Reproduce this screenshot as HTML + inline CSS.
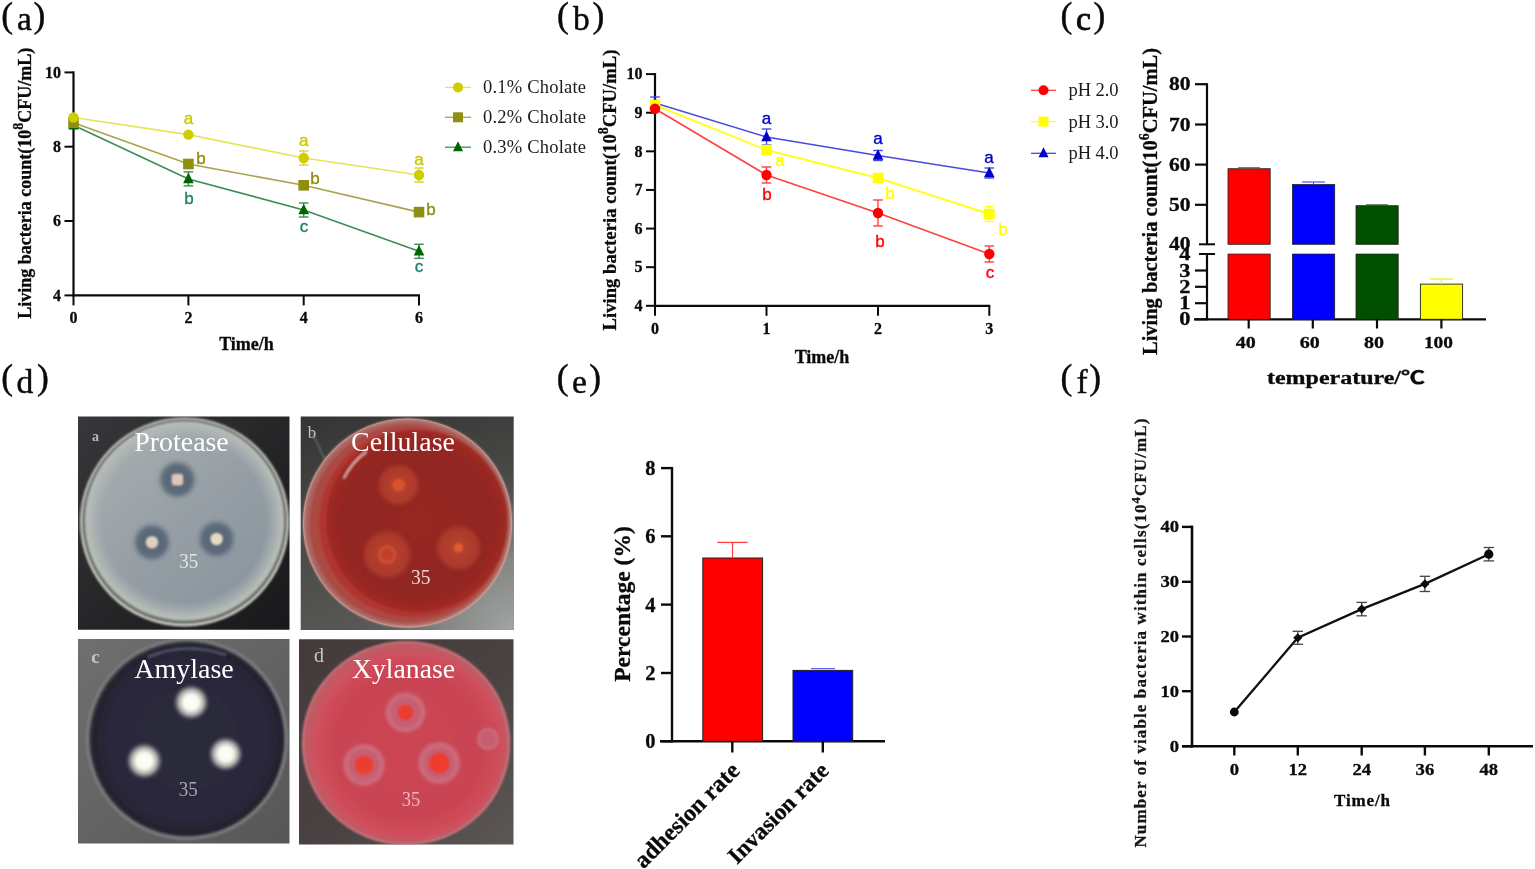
<!DOCTYPE html>
<html lang="en"><head><meta charset="utf-8"><title>Figure</title>
<style>
html,body{margin:0;padding:0;background:#fff;}
body{width:1535px;height:869px;overflow:hidden;font-family:'Liberation Serif',serif;}
svg{display:block;}
</style></head><body>
<svg width="1535" height="869" viewBox="0 0 1535 869">
<rect width="1535" height="869" fill="#ffffff"/>
<defs>
  <filter id="bl1" x="-10%" y="-10%" width="120%" height="120%"><feGaussianBlur stdDeviation="1.1"/></filter>
  <filter id="bl2" x="-30%" y="-30%" width="160%" height="160%"><feGaussianBlur stdDeviation="2.6"/></filter>
  <filter id="bl3" x="-30%" y="-30%" width="160%" height="160%"><feGaussianBlur stdDeviation="1.6"/></filter>
  <filter id="bl05" x="-10%" y="-10%" width="120%" height="120%"><feGaussianBlur stdDeviation="0.6"/></filter>
  <clipPath id="cpa"><rect x="78" y="416.5" width="211.5" height="213.3"/></clipPath>
  <clipPath id="cpb"><rect x="300.7" y="416.4" width="213" height="213.5"/></clipPath>
  <clipPath id="cpc"><rect x="78" y="639" width="211.5" height="204.6"/></clipPath>
  <clipPath id="cpd"><rect x="299" y="639.3" width="214.5" height="205.3"/></clipPath>
  <linearGradient id="bga" x1="0" y1="0" x2="1" y2="1"><stop offset="0" stop-color="#38383c"/><stop offset="0.5" stop-color="#262628"/><stop offset="1" stop-color="#18181a"/></linearGradient>
  <linearGradient id="bgb" x1="0.2" y1="0" x2="0.5" y2="1"><stop offset="0" stop-color="#363636"/><stop offset="0.45" stop-color="#484846"/><stop offset="1" stop-color="#5a5a56"/></linearGradient>
  <radialGradient id="bgb2" cx="1" cy="1" r="0.75"><stop offset="0" stop-color="#a2a6a4"/><stop offset="0.45" stop-color="#8c8e8c" stop-opacity="0.85"/><stop offset="1" stop-color="#5a5a58" stop-opacity="0"/></radialGradient>
  <linearGradient id="bgc" x1="0" y1="0" x2="1" y2="1"><stop offset="0" stop-color="#707070"/><stop offset="1" stop-color="#565656"/></linearGradient>
  <linearGradient id="bgd" x1="0" y1="0" x2="1" y2="1"><stop offset="0" stop-color="#443a3a"/><stop offset="0.55" stop-color="#4a4242"/><stop offset="1" stop-color="#5c5856"/></linearGradient>
  <linearGradient id="agA" x1="0.15" y1="0.1" x2="0.85" y2="0.9"><stop offset="0" stop-color="#a4acae"/><stop offset="0.5" stop-color="#969fa5"/><stop offset="1" stop-color="#8a959e"/></linearGradient>
  <radialGradient id="agA2" cx="0.5" cy="0.5" r="0.5"><stop offset="0.86" stop-color="#b0b6b4" stop-opacity="0"/><stop offset="1" stop-color="#b4bab6" stop-opacity="0.9"/></radialGradient>
  <radialGradient id="agB" cx="0.5" cy="0.5" r="0.5"><stop offset="0" stop-color="#962822"/><stop offset="0.8" stop-color="#912520"/><stop offset="1" stop-color="#a02a24"/></radialGradient>
  <radialGradient id="agC" cx="0.5" cy="0.5" r="0.5"><stop offset="0" stop-color="#2c2a3a"/><stop offset="0.85" stop-color="#29283a"/><stop offset="1" stop-color="#22222e"/></radialGradient>
  <radialGradient id="agD" cx="0.5" cy="0.5" r="0.5"><stop offset="0" stop-color="#cc4654"/><stop offset="0.8" stop-color="#ca4452"/><stop offset="1" stop-color="#d04e5c"/></radialGradient>
  <radialGradient id="haloA" cx="0.5" cy="0.5" r="0.5"><stop offset="0" stop-color="#525f70"/><stop offset="0.68" stop-color="#5e6c7c"/><stop offset="1" stop-color="#8a96a0" stop-opacity="0"/></radialGradient>
  <radialGradient id="haloB" cx="0.5" cy="0.5" r="0.5"><stop offset="0" stop-color="#b8442e"/><stop offset="0.75" stop-color="#ad3a2c" stop-opacity="0.95"/><stop offset="1" stop-color="#a03026" stop-opacity="0"/></radialGradient>
  <radialGradient id="glowC" cx="0.5" cy="0.5" r="0.5"><stop offset="0" stop-color="#ffffff"/><stop offset="0.42" stop-color="#f8faee"/><stop offset="0.7" stop-color="#d0d2c8" stop-opacity="0.75"/><stop offset="1" stop-color="#707080" stop-opacity="0"/></radialGradient>
  <radialGradient id="haloD" cx="0.5" cy="0.5" r="0.5"><stop offset="0" stop-color="#c85c6c"/><stop offset="0.55" stop-color="#c65e70"/><stop offset="0.8" stop-color="#cc6e7e"/><stop offset="1" stop-color="#cc5060" stop-opacity="0"/></radialGradient>
</defs>
<!-- a: Protease -->
<g clip-path="url(#cpa)">
  <rect x="76" y="414" width="216" height="218" fill="url(#bga)"/>
  <g filter="url(#bl1)">
    <circle cx="184.5" cy="522" r="104.5" fill="#d6d8d0"/>
    <circle cx="184.5" cy="521.6" r="102.6" fill="#6c7068"/>
    <circle cx="184.5" cy="521" r="99.5" fill="#b6bcb8"/>
    <circle cx="184.5" cy="520.5" r="95" fill="url(#agA)"/>
    <circle cx="184.5" cy="520.5" r="95" fill="url(#agA2)"/>
  </g>
  <g filter="url(#bl3)">
    <circle cx="177.4" cy="479.6" r="21.5" fill="url(#haloA)"/>
    <circle cx="152" cy="542.3" r="21.5" fill="url(#haloA)"/>
    <circle cx="216.6" cy="539" r="21.5" fill="url(#haloA)"/>
  </g>
  <g filter="url(#bl1)">
    <rect x="171.6" y="473.8" width="11.6" height="11.6" rx="3" fill="#dcc8b8"/>
    <circle cx="152" cy="542.3" r="6.3" fill="#e0d2bc"/>
    <circle cx="216.6" cy="539" r="6.3" fill="#e6dac2"/>
  </g>
</g>
<!-- b: Cellulase -->
<g clip-path="url(#cpb)">
  <rect x="298" y="414" width="218" height="218" fill="url(#bgb)"/>
  <rect x="298" y="414" width="218" height="218" fill="url(#bgb2)"/>
  <g filter="url(#bl1)">
    <circle cx="407.5" cy="523" r="104.5" fill="#d09a92"/>
    <circle cx="407.5" cy="523" r="103" fill="#a8645e"/>
    <circle cx="408.5" cy="523.5" r="99" fill="#ac4a42"/>
    <circle cx="413" cy="523" r="94" fill="#b03630"/>
    <circle cx="417" cy="521" r="91" fill="url(#agB)"/>
    <path d="M 344 478 Q 352 462 366 452" stroke="#e8c0b8" stroke-width="1.6" fill="none" stroke-linecap="round"/>
    <path d="M 312 432 L 325 460" stroke="#8a8888" stroke-width="1" fill="none"/>
  </g>
  <circle cx="407.5" cy="523" r="104" fill="none" stroke="#e0a8a0" stroke-width="1" opacity="0.7" filter="url(#bl05)"/>
  <g filter="url(#bl1)">
    <circle cx="398.6" cy="485" r="23" fill="url(#haloB)"/>
    <circle cx="387.2" cy="554.7" r="27" fill="url(#haloB)"/>
    <circle cx="458.5" cy="547.8" r="25" fill="url(#haloB)"/>
    <circle cx="398.6" cy="485" r="6.5" fill="#d8532e"/>
    <circle cx="387.2" cy="554.7" r="9.5" fill="#d04c30"/>
    <circle cx="387.2" cy="554.7" r="6" fill="#c0402c"/>
    <circle cx="458.5" cy="547.8" r="4.5" fill="#e6582e"/>
  </g>
</g>
<!-- c: Amylase -->
<g clip-path="url(#cpc)">
  <rect x="76" y="637" width="216" height="210" fill="url(#bgc)"/>
  <g filter="url(#bl1)">
    <circle cx="187" cy="739" r="101" fill="#7c7c7e"/>
    <circle cx="187" cy="739" r="98" fill="#34343e"/>
    <circle cx="187.5" cy="739.5" r="95.5" fill="url(#agC)"/>
    <path d="M 148 657 Q 186 641 226 655" stroke="#50506a" stroke-width="2.5" fill="none"/>
  </g>
  <g filter="url(#bl1)">
    <circle cx="191.2" cy="702.3" r="18.5" fill="url(#glowC)"/>
    <circle cx="144.3" cy="760.9" r="19" fill="url(#glowC)"/>
    <circle cx="225.7" cy="754" r="18" fill="url(#glowC)"/>
  </g>
</g>
<!-- d: Xylanase -->
<g clip-path="url(#cpd)">
  <rect x="298" y="637" width="218" height="210" fill="url(#bgd)"/>
  <g filter="url(#bl1)">
    <ellipse cx="406" cy="743" rx="104" ry="102" fill="#d88088"/>
    <ellipse cx="406" cy="743" rx="102.5" ry="100.5" fill="#c05a64"/>
    <ellipse cx="407.5" cy="744.5" rx="97" ry="95" fill="#cc5260"/>
    <ellipse cx="409" cy="746" rx="93" ry="91" fill="url(#agD)"/>
  </g>
  <g filter="url(#bl1)">
    <circle cx="405.5" cy="712.5" r="22.5" fill="url(#haloD)"/>
    <circle cx="364" cy="765" r="23.5" fill="url(#haloD)"/>
    <circle cx="439.2" cy="763" r="23.5" fill="url(#haloD)"/>
    <circle cx="488" cy="739" r="12.5" fill="url(#haloD)"/>
    <circle cx="405.5" cy="712.5" r="8" fill="#ea3c32"/>
    <circle cx="364" cy="765" r="9.5" fill="#ec3e32"/>
    <circle cx="439.2" cy="763" r="10.5" fill="#ee3c2e"/>
  </g>
</g>
<g font-family="'Liberation Serif', serif" fill="#ffffff" text-anchor="middle">
  <text x="181.5" y="451" font-size="28" textLength="94.5" lengthAdjust="spacingAndGlyphs">Protease</text>
  <text x="403" y="451" font-size="28" textLength="104" lengthAdjust="spacingAndGlyphs">Cellulase</text>
  <text x="184" y="678" font-size="28" textLength="99.5" lengthAdjust="spacingAndGlyphs">Amylase</text>
  <text x="403.5" y="678" font-size="28" textLength="103" lengthAdjust="spacingAndGlyphs">Xylanase</text>
</g>
<g font-family="'Liberation Serif', serif" filter="url(#bl05)" text-anchor="middle">
  <text x="188.7" y="567.5" font-size="20" fill="#e2e6ea" textLength="19" lengthAdjust="spacingAndGlyphs">35</text>
  <text x="420.7" y="584" font-size="20.5" fill="#ead6d2" textLength="19.5" lengthAdjust="spacingAndGlyphs">35</text>
  <text x="188.2" y="795.5" font-size="20" fill="#a6a6b4" textLength="19" lengthAdjust="spacingAndGlyphs">35</text>
  <text x="411" y="806" font-size="20" fill="#f0b4bc" textLength="18.5" lengthAdjust="spacingAndGlyphs">35</text>
  <text x="95.5" y="441" font-size="14" font-weight="bold" fill="#b8b8bc">a</text>
  <text x="312" y="438" font-size="17" fill="#c4bcbc">b</text>
  <text x="95.4" y="663" font-size="19" font-weight="bold" fill="#c4c4c4">c</text>
  <text x="319" y="661.5" font-size="20" fill="#d0c4c4">d</text>
</g>

<g>
<text x="1.3" y="26.8" font-family="'Liberation Serif', serif" font-size="35.5" font-weight="normal" text-anchor="start" fill="#0a0a0a" stroke="#0a0a0a" stroke-width="0.45">(</text>
<text x="17.0" y="29.8" font-family="'Liberation Serif', serif" font-size="33.5" font-weight="normal" text-anchor="start" fill="#0a0a0a" stroke="#0a0a0a" stroke-width="0.45">a</text>
<text x="33.4" y="26.8" font-family="'Liberation Serif', serif" font-size="35.5" font-weight="normal" text-anchor="start" fill="#0a0a0a" stroke="#0a0a0a" stroke-width="0.45">)</text>
<text x="557.1" y="26.8" font-family="'Liberation Serif', serif" font-size="35.5" font-weight="normal" text-anchor="start" fill="#0a0a0a" stroke="#0a0a0a" stroke-width="0.45">(</text>
<text x="573" y="29.8" font-family="'Liberation Serif', serif" font-size="33.5" font-weight="normal" text-anchor="start" fill="#0a0a0a" stroke="#0a0a0a" stroke-width="0.45">b</text>
<text x="592.6" y="26.8" font-family="'Liberation Serif', serif" font-size="35.5" font-weight="normal" text-anchor="start" fill="#0a0a0a" stroke="#0a0a0a" stroke-width="0.45">)</text>
<text x="1060.4" y="26.8" font-family="'Liberation Serif', serif" font-size="35.5" font-weight="normal" text-anchor="start" fill="#0a0a0a" stroke="#0a0a0a" stroke-width="0.45">(</text>
<text x="1075.9" y="29.8" font-family="'Liberation Serif', serif" font-size="33.5" font-weight="normal" text-anchor="start" fill="#0a0a0a" stroke="#0a0a0a" stroke-width="0.9">c</text>
<text x="1093.4" y="26.8" font-family="'Liberation Serif', serif" font-size="35.5" font-weight="normal" text-anchor="start" fill="#0a0a0a" stroke="#0a0a0a" stroke-width="0.45">)</text>
<text x="1.3" y="389.1" font-family="'Liberation Serif', serif" font-size="35.5" font-weight="normal" text-anchor="start" fill="#0a0a0a" stroke="#0a0a0a" stroke-width="0.45">(</text>
<text x="16.6" y="392.5" font-family="'Liberation Serif', serif" font-size="33.5" font-weight="normal" text-anchor="start" fill="#0a0a0a" stroke="#0a0a0a" stroke-width="0.45">d</text>
<text x="36.9" y="389.1" font-family="'Liberation Serif', serif" font-size="35.5" font-weight="normal" text-anchor="start" fill="#0a0a0a" stroke="#0a0a0a" stroke-width="0.45">)</text>
<text x="556.8" y="389.1" font-family="'Liberation Serif', serif" font-size="35.5" font-weight="normal" text-anchor="start" fill="#0a0a0a" stroke="#0a0a0a" stroke-width="0.45">(</text>
<text x="572" y="392.5" font-family="'Liberation Serif', serif" font-size="33.5" font-weight="normal" text-anchor="start" fill="#0a0a0a" stroke="#0a0a0a" stroke-width="0.45">e</text>
<text x="589.3" y="389.1" font-family="'Liberation Serif', serif" font-size="35.5" font-weight="normal" text-anchor="start" fill="#0a0a0a" stroke="#0a0a0a" stroke-width="0.45">)</text>
<text x="1060.4" y="389.1" font-family="'Liberation Serif', serif" font-size="35.5" font-weight="normal" text-anchor="start" fill="#0a0a0a" stroke="#0a0a0a" stroke-width="0.45">(</text>
<text x="1076.6" y="392.5" font-family="'Liberation Serif', serif" font-size="33.5" font-weight="normal" text-anchor="start" fill="#0a0a0a" stroke="#0a0a0a" stroke-width="0.45">f</text>
<text x="1089.2" y="389.1" font-family="'Liberation Serif', serif" font-size="35.5" font-weight="normal" text-anchor="start" fill="#0a0a0a" stroke="#0a0a0a" stroke-width="0.45">)</text>
<line x1="73.5" y1="71.4" x2="73.5" y2="296.5" stroke="#0a0a0a" stroke-width="2.2"/>
<line x1="72.5" y1="295.4" x2="420" y2="295.4" stroke="#0a0a0a" stroke-width="2.2"/>
<line x1="64.5" y1="72.4" x2="73.5" y2="72.4" stroke="#0a0a0a" stroke-width="2"/>
<text x="61.0" y="77.60000000000001" font-family="'Liberation Serif', serif" font-size="16" font-weight="bold" text-anchor="end" fill="#0a0a0a" stroke="#0a0a0a" stroke-width="0.3">10</text>
<line x1="64.5" y1="146.7" x2="73.5" y2="146.7" stroke="#0a0a0a" stroke-width="2"/>
<text x="61.0" y="151.89999999999998" font-family="'Liberation Serif', serif" font-size="16" font-weight="bold" text-anchor="end" fill="#0a0a0a" stroke="#0a0a0a" stroke-width="0.3">8</text>
<line x1="64.5" y1="221.0" x2="73.5" y2="221.0" stroke="#0a0a0a" stroke-width="2"/>
<text x="61.0" y="226.2" font-family="'Liberation Serif', serif" font-size="16" font-weight="bold" text-anchor="end" fill="#0a0a0a" stroke="#0a0a0a" stroke-width="0.3">6</text>
<line x1="64.5" y1="295.4" x2="73.5" y2="295.4" stroke="#0a0a0a" stroke-width="2"/>
<text x="61.0" y="300.59999999999997" font-family="'Liberation Serif', serif" font-size="16" font-weight="bold" text-anchor="end" fill="#0a0a0a" stroke="#0a0a0a" stroke-width="0.3">4</text>
<line x1="73.5" y1="295.4" x2="73.5" y2="305.4" stroke="#0a0a0a" stroke-width="2"/>
<text x="73.5" y="323.2" font-family="'Liberation Serif', serif" font-size="16" font-weight="bold" text-anchor="middle" fill="#0a0a0a" stroke="#0a0a0a" stroke-width="0.3">0</text>
<line x1="188.4" y1="295.4" x2="188.4" y2="305.4" stroke="#0a0a0a" stroke-width="2"/>
<text x="188.4" y="323.2" font-family="'Liberation Serif', serif" font-size="16" font-weight="bold" text-anchor="middle" fill="#0a0a0a" stroke="#0a0a0a" stroke-width="0.3">2</text>
<line x1="303.7" y1="295.4" x2="303.7" y2="305.4" stroke="#0a0a0a" stroke-width="2"/>
<text x="303.7" y="323.2" font-family="'Liberation Serif', serif" font-size="16" font-weight="bold" text-anchor="middle" fill="#0a0a0a" stroke="#0a0a0a" stroke-width="0.3">4</text>
<line x1="419" y1="295.4" x2="419" y2="305.4" stroke="#0a0a0a" stroke-width="2"/>
<text x="419" y="323.2" font-family="'Liberation Serif', serif" font-size="16" font-weight="bold" text-anchor="middle" fill="#0a0a0a" stroke="#0a0a0a" stroke-width="0.3">6</text>
<text x="246.5" y="350" font-family="'Liberation Serif', serif" font-size="18" font-weight="bold" text-anchor="middle" fill="#0a0a0a" stroke="#0a0a0a" stroke-width="0.3">Time/h</text>
<text x="31.5" y="183.2" font-family="'Liberation Serif', serif" font-size="18" font-weight="bold" text-anchor="middle" fill="#0a0a0a" transform="rotate(-90 31.5 183.2)" textLength="271" lengthAdjust="spacing" stroke="#0a0a0a" stroke-width="0.3">Living bacteria count(10<tspan font-size="14" dy="-8">8</tspan><tspan dy="8">CFU/mL)</tspan></text>
<polyline points="73.5,117.5 188.4,134.6 303.7,158 419,175" fill="none" stroke="#e4e45a" stroke-width="1.6"/>
<polyline points="73.5,122.7 188.4,164 303.7,185.3 419,212.1" fill="none" stroke="#aaa24a" stroke-width="1.6"/>
<polyline points="73.5,125.2 188.4,178.9 303.7,210 419,251.3" fill="none" stroke="#3c8c58" stroke-width="1.6"/>
<polygon points="73.5,118.9 78.8,129.5 68.2,129.5" fill="#006400"/>
<line x1="188.4" y1="171.9" x2="188.4" y2="185.9" stroke="#3c8c58" stroke-width="1.4"/>
<line x1="183.6" y1="171.9" x2="193.20000000000002" y2="171.9" stroke="#3c8c58" stroke-width="1.4"/>
<line x1="183.6" y1="185.9" x2="193.20000000000002" y2="185.9" stroke="#3c8c58" stroke-width="1.4"/>
<polygon points="188.4,172.6 193.70000000000002,183.20000000000002 183.1,183.20000000000002" fill="#006400"/>
<line x1="303.7" y1="203" x2="303.7" y2="217" stroke="#3c8c58" stroke-width="1.4"/>
<line x1="298.9" y1="203" x2="308.5" y2="203" stroke="#3c8c58" stroke-width="1.4"/>
<line x1="298.9" y1="217" x2="308.5" y2="217" stroke="#3c8c58" stroke-width="1.4"/>
<polygon points="303.7,203.7 309.0,214.3 298.4,214.3" fill="#006400"/>
<line x1="419" y1="244.3" x2="419" y2="258.3" stroke="#3c8c58" stroke-width="1.4"/>
<line x1="414.2" y1="244.3" x2="423.8" y2="244.3" stroke="#3c8c58" stroke-width="1.4"/>
<line x1="414.2" y1="258.3" x2="423.8" y2="258.3" stroke="#3c8c58" stroke-width="1.4"/>
<polygon points="419,245.0 424.3,255.60000000000002 413.7,255.60000000000002" fill="#006400"/>
<rect x="68.2" y="117.4" width="10.6" height="10.6" fill="#8e8e12"/>
<line x1="188.4" y1="160" x2="188.4" y2="168" stroke="#aaa24a" stroke-width="1.4"/>
<line x1="183.6" y1="160" x2="193.20000000000002" y2="160" stroke="#aaa24a" stroke-width="1.4"/>
<line x1="183.6" y1="168" x2="193.20000000000002" y2="168" stroke="#aaa24a" stroke-width="1.4"/>
<rect x="183.1" y="158.7" width="10.6" height="10.6" fill="#8e8e12"/>
<line x1="303.7" y1="182.3" x2="303.7" y2="188.3" stroke="#aaa24a" stroke-width="1.4"/>
<line x1="298.9" y1="182.3" x2="308.5" y2="182.3" stroke="#aaa24a" stroke-width="1.4"/>
<line x1="298.9" y1="188.3" x2="308.5" y2="188.3" stroke="#aaa24a" stroke-width="1.4"/>
<rect x="298.4" y="180.0" width="10.6" height="10.6" fill="#8e8e12"/>
<line x1="419" y1="209.1" x2="419" y2="215.1" stroke="#aaa24a" stroke-width="1.4"/>
<line x1="414.2" y1="209.1" x2="423.8" y2="209.1" stroke="#aaa24a" stroke-width="1.4"/>
<line x1="414.2" y1="215.1" x2="423.8" y2="215.1" stroke="#aaa24a" stroke-width="1.4"/>
<rect x="413.7" y="206.79999999999998" width="10.6" height="10.6" fill="#8e8e12"/>
<circle cx="73.5" cy="117.5" r="5.2" fill="#cdcd00"/>
<circle cx="188.4" cy="134.6" r="5.2" fill="#cdcd00"/>
<line x1="303.7" y1="151" x2="303.7" y2="165" stroke="#d6d630" stroke-width="1.4"/>
<line x1="298.9" y1="151" x2="308.5" y2="151" stroke="#d6d630" stroke-width="1.4"/>
<line x1="298.9" y1="165" x2="308.5" y2="165" stroke="#d6d630" stroke-width="1.4"/>
<circle cx="303.7" cy="158" r="5.2" fill="#cdcd00"/>
<line x1="419" y1="168" x2="419" y2="182" stroke="#d6d630" stroke-width="1.4"/>
<line x1="414.2" y1="168" x2="423.8" y2="168" stroke="#d6d630" stroke-width="1.4"/>
<line x1="414.2" y1="182" x2="423.8" y2="182" stroke="#d6d630" stroke-width="1.4"/>
<circle cx="419" cy="175" r="5.2" fill="#cdcd00"/>
<text x="188.4" y="123.5" font-family="'Liberation Sans', sans-serif" font-size="17" font-weight="normal" text-anchor="middle" fill="#c8c800" stroke="#c8c800" stroke-width="0.35">a</text>
<text x="303.7" y="145.5" font-family="'Liberation Sans', sans-serif" font-size="17" font-weight="normal" text-anchor="middle" fill="#c8c800" stroke="#c8c800" stroke-width="0.35">a</text>
<text x="419" y="164.5" font-family="'Liberation Sans', sans-serif" font-size="17" font-weight="normal" text-anchor="middle" fill="#c8c800" stroke="#c8c800" stroke-width="0.35">a</text>
<text x="201" y="163.5" font-family="'Liberation Sans', sans-serif" font-size="17" font-weight="normal" text-anchor="middle" fill="#8e8e12" stroke="#8e8e12" stroke-width="0.35">b</text>
<text x="315" y="183.5" font-family="'Liberation Sans', sans-serif" font-size="17" font-weight="normal" text-anchor="middle" fill="#8e8e12" stroke="#8e8e12" stroke-width="0.35">b</text>
<text x="431" y="214.5" font-family="'Liberation Sans', sans-serif" font-size="17" font-weight="normal" text-anchor="middle" fill="#8e8e12" stroke="#8e8e12" stroke-width="0.35">b</text>
<text x="189" y="203.5" font-family="'Liberation Sans', sans-serif" font-size="17" font-weight="normal" text-anchor="middle" fill="#1e8264" stroke="#1e8264" stroke-width="0.35">b</text>
<text x="304" y="231.5" font-family="'Liberation Sans', sans-serif" font-size="17" font-weight="normal" text-anchor="middle" fill="#1e8264" stroke="#1e8264" stroke-width="0.35">c</text>
<text x="419" y="271.5" font-family="'Liberation Sans', sans-serif" font-size="17" font-weight="normal" text-anchor="middle" fill="#1e8264" stroke="#1e8264" stroke-width="0.35">c</text>
<line x1="445" y1="87.4" x2="471" y2="87.4" stroke="#e4e45a" stroke-width="1.3"/>
<circle cx="458" cy="87.4" r="5" fill="#cdcd00"/>
<text x="483" y="93.4" font-family="'Liberation Serif', serif" font-size="18.5" font-weight="normal" text-anchor="start" fill="#1a1a1a" textLength="103" lengthAdjust="spacing">0.1% Cholate</text>
<line x1="445" y1="117.3" x2="471" y2="117.3" stroke="#aaa24a" stroke-width="1.3"/>
<rect x="453" y="112.3" width="10" height="10" fill="#8e8e12"/>
<text x="483" y="123.3" font-family="'Liberation Serif', serif" font-size="18.5" font-weight="normal" text-anchor="start" fill="#1a1a1a" textLength="103" lengthAdjust="spacing">0.2% Cholate</text>
<line x1="445" y1="147.2" x2="471" y2="147.2" stroke="#3c8c58" stroke-width="1.3"/>
<polygon points="458,141.2 463,151.2 453,151.2" fill="#006400"/>
<text x="483" y="153.2" font-family="'Liberation Serif', serif" font-size="18.5" font-weight="normal" text-anchor="start" fill="#1a1a1a" textLength="103" lengthAdjust="spacing">0.3% Cholate</text>
<line x1="655" y1="73.1" x2="655" y2="306.90000000000003" stroke="#0a0a0a" stroke-width="2.2"/>
<line x1="654" y1="305.8" x2="990.3" y2="305.8" stroke="#0a0a0a" stroke-width="2.2"/>
<line x1="646" y1="74.1" x2="655" y2="74.1" stroke="#0a0a0a" stroke-width="2"/>
<text x="642.5" y="79.3" font-family="'Liberation Serif', serif" font-size="16" font-weight="bold" text-anchor="end" fill="#0a0a0a" stroke="#0a0a0a" stroke-width="0.3">10</text>
<line x1="646" y1="112.71666666666667" x2="655" y2="112.71666666666667" stroke="#0a0a0a" stroke-width="2"/>
<text x="642.5" y="117.91666666666667" font-family="'Liberation Serif', serif" font-size="16" font-weight="bold" text-anchor="end" fill="#0a0a0a" stroke="#0a0a0a" stroke-width="0.3">9</text>
<line x1="646" y1="151.33333333333331" x2="655" y2="151.33333333333331" stroke="#0a0a0a" stroke-width="2"/>
<text x="642.5" y="156.5333333333333" font-family="'Liberation Serif', serif" font-size="16" font-weight="bold" text-anchor="end" fill="#0a0a0a" stroke="#0a0a0a" stroke-width="0.3">8</text>
<line x1="646" y1="189.95" x2="655" y2="189.95" stroke="#0a0a0a" stroke-width="2"/>
<text x="642.5" y="195.14999999999998" font-family="'Liberation Serif', serif" font-size="16" font-weight="bold" text-anchor="end" fill="#0a0a0a" stroke="#0a0a0a" stroke-width="0.3">7</text>
<line x1="646" y1="228.56666666666666" x2="655" y2="228.56666666666666" stroke="#0a0a0a" stroke-width="2"/>
<text x="642.5" y="233.76666666666665" font-family="'Liberation Serif', serif" font-size="16" font-weight="bold" text-anchor="end" fill="#0a0a0a" stroke="#0a0a0a" stroke-width="0.3">6</text>
<line x1="646" y1="267.18333333333334" x2="655" y2="267.18333333333334" stroke="#0a0a0a" stroke-width="2"/>
<text x="642.5" y="272.3833333333333" font-family="'Liberation Serif', serif" font-size="16" font-weight="bold" text-anchor="end" fill="#0a0a0a" stroke="#0a0a0a" stroke-width="0.3">5</text>
<line x1="646" y1="305.8" x2="655" y2="305.8" stroke="#0a0a0a" stroke-width="2"/>
<text x="642.5" y="311.0" font-family="'Liberation Serif', serif" font-size="16" font-weight="bold" text-anchor="end" fill="#0a0a0a" stroke="#0a0a0a" stroke-width="0.3">4</text>
<line x1="655" y1="305.8" x2="655" y2="315.8" stroke="#0a0a0a" stroke-width="2"/>
<text x="655" y="333.8" font-family="'Liberation Serif', serif" font-size="16" font-weight="bold" text-anchor="middle" fill="#0a0a0a" stroke="#0a0a0a" stroke-width="0.3">0</text>
<line x1="766.5" y1="305.8" x2="766.5" y2="315.8" stroke="#0a0a0a" stroke-width="2"/>
<text x="766.5" y="333.8" font-family="'Liberation Serif', serif" font-size="16" font-weight="bold" text-anchor="middle" fill="#0a0a0a" stroke="#0a0a0a" stroke-width="0.3">1</text>
<line x1="878" y1="305.8" x2="878" y2="315.8" stroke="#0a0a0a" stroke-width="2"/>
<text x="878" y="333.8" font-family="'Liberation Serif', serif" font-size="16" font-weight="bold" text-anchor="middle" fill="#0a0a0a" stroke="#0a0a0a" stroke-width="0.3">2</text>
<line x1="989.3" y1="305.8" x2="989.3" y2="315.8" stroke="#0a0a0a" stroke-width="2"/>
<text x="989.3" y="333.8" font-family="'Liberation Serif', serif" font-size="16" font-weight="bold" text-anchor="middle" fill="#0a0a0a" stroke="#0a0a0a" stroke-width="0.3">3</text>
<text x="822" y="363" font-family="'Liberation Serif', serif" font-size="18" font-weight="bold" text-anchor="middle" fill="#0a0a0a" stroke="#0a0a0a" stroke-width="0.3">Time/h</text>
<text x="616" y="190" font-family="'Liberation Serif', serif" font-size="18.6" font-weight="bold" text-anchor="middle" fill="#0a0a0a" transform="rotate(-90 616 190)" textLength="281" lengthAdjust="spacing" stroke="#0a0a0a" stroke-width="0.3">Living bacteria count(10<tspan font-size="14" dy="-8">8</tspan><tspan dy="8">CFU/mL)</tspan></text>
<polyline points="655,103 766.5,137 878,155.5 989.3,173" fill="none" stroke="#4a4ae0" stroke-width="1.6"/>
<polyline points="655,105 766.5,150 878,178 989.3,214" fill="none" stroke="#ffff20" stroke-width="1.9"/>
<polyline points="655,108.7 766.5,175 878,213 989.3,254" fill="none" stroke="#ff4040" stroke-width="1.6"/>
<line x1="655" y1="97" x2="655" y2="103" stroke="#4a4ae0" stroke-width="1.4"/>
<line x1="650.2" y1="97" x2="659.8" y2="97" stroke="#4a4ae0" stroke-width="1.4"/>
<polygon points="655,96.7 660.3,107.3 649.7,107.3" fill="#0000cd"/>
<line x1="766.5" y1="129" x2="766.5" y2="145" stroke="#4a4ae0" stroke-width="1.4"/>
<line x1="761.7" y1="129" x2="771.3" y2="129" stroke="#4a4ae0" stroke-width="1.4"/>
<line x1="761.7" y1="145" x2="771.3" y2="145" stroke="#4a4ae0" stroke-width="1.4"/>
<polygon points="766.5,130.7 771.8,141.3 761.2,141.3" fill="#0000cd"/>
<line x1="878" y1="150.5" x2="878" y2="160.5" stroke="#4a4ae0" stroke-width="1.4"/>
<line x1="873.2" y1="150.5" x2="882.8" y2="150.5" stroke="#4a4ae0" stroke-width="1.4"/>
<line x1="873.2" y1="160.5" x2="882.8" y2="160.5" stroke="#4a4ae0" stroke-width="1.4"/>
<polygon points="878,149.2 883.3,159.8 872.7,159.8" fill="#0000cd"/>
<line x1="989.3" y1="168" x2="989.3" y2="178" stroke="#4a4ae0" stroke-width="1.4"/>
<line x1="984.5" y1="168" x2="994.0999999999999" y2="168" stroke="#4a4ae0" stroke-width="1.4"/>
<line x1="984.5" y1="178" x2="994.0999999999999" y2="178" stroke="#4a4ae0" stroke-width="1.4"/>
<polygon points="989.3,166.7 994.5999999999999,177.3 984.0,177.3" fill="#0000cd"/>
<rect x="649.7" y="99.7" width="10.6" height="10.6" fill="#ffff00"/>
<rect x="761.2" y="144.7" width="10.6" height="10.6" fill="#ffff00"/>
<line x1="878" y1="175" x2="878" y2="181" stroke="#ffff20" stroke-width="1.4"/>
<line x1="873.2" y1="175" x2="882.8" y2="175" stroke="#ffff20" stroke-width="1.4"/>
<line x1="873.2" y1="181" x2="882.8" y2="181" stroke="#ffff20" stroke-width="1.4"/>
<rect x="872.7" y="172.7" width="10.6" height="10.6" fill="#ffff00"/>
<line x1="989.3" y1="206.5" x2="989.3" y2="221.5" stroke="#ffff20" stroke-width="1.4"/>
<line x1="984.5" y1="206.5" x2="994.0999999999999" y2="206.5" stroke="#ffff20" stroke-width="1.4"/>
<line x1="984.5" y1="221.5" x2="994.0999999999999" y2="221.5" stroke="#ffff20" stroke-width="1.4"/>
<rect x="984.0" y="208.7" width="10.6" height="10.6" fill="#ffff00"/>
<circle cx="655" cy="108.7" r="5.2" fill="#ff0000"/>
<line x1="766.5" y1="167" x2="766.5" y2="183" stroke="#ff4040" stroke-width="1.4"/>
<line x1="761.7" y1="167" x2="771.3" y2="167" stroke="#ff4040" stroke-width="1.4"/>
<line x1="761.7" y1="183" x2="771.3" y2="183" stroke="#ff4040" stroke-width="1.4"/>
<circle cx="766.5" cy="175" r="5.2" fill="#ff0000"/>
<line x1="878" y1="200" x2="878" y2="226" stroke="#ff4040" stroke-width="1.4"/>
<line x1="873.2" y1="200" x2="882.8" y2="200" stroke="#ff4040" stroke-width="1.4"/>
<line x1="873.2" y1="226" x2="882.8" y2="226" stroke="#ff4040" stroke-width="1.4"/>
<circle cx="878" cy="213" r="5.2" fill="#ff0000"/>
<line x1="989.3" y1="246" x2="989.3" y2="262" stroke="#ff4040" stroke-width="1.4"/>
<line x1="984.5" y1="246" x2="994.0999999999999" y2="246" stroke="#ff4040" stroke-width="1.4"/>
<line x1="984.5" y1="262" x2="994.0999999999999" y2="262" stroke="#ff4040" stroke-width="1.4"/>
<circle cx="989.3" cy="254" r="5.2" fill="#ff0000"/>
<text x="766.5" y="123.8" font-family="'Liberation Sans', sans-serif" font-size="17" font-weight="normal" text-anchor="middle" fill="#0000cd" stroke="#0000cd" stroke-width="0.35">a</text>
<text x="878" y="143.5" font-family="'Liberation Sans', sans-serif" font-size="17" font-weight="normal" text-anchor="middle" fill="#0000cd" stroke="#0000cd" stroke-width="0.35">a</text>
<text x="989" y="162.8" font-family="'Liberation Sans', sans-serif" font-size="17" font-weight="normal" text-anchor="middle" fill="#0000cd" stroke="#0000cd" stroke-width="0.35">a</text>
<text x="780" y="165.5" font-family="'Liberation Sans', sans-serif" font-size="17" font-weight="normal" text-anchor="middle" fill="#ffff00" stroke="#ffff00" stroke-width="0.35">a</text>
<text x="890" y="198.5" font-family="'Liberation Sans', sans-serif" font-size="17" font-weight="normal" text-anchor="middle" fill="#ffff00" stroke="#ffff00" stroke-width="0.35">b</text>
<text x="1003" y="234.5" font-family="'Liberation Sans', sans-serif" font-size="17" font-weight="normal" text-anchor="middle" fill="#ffff00" stroke="#ffff00" stroke-width="0.35">b</text>
<text x="767" y="199.5" font-family="'Liberation Sans', sans-serif" font-size="17" font-weight="normal" text-anchor="middle" fill="#ff0000" stroke="#ff0000" stroke-width="0.35">b</text>
<text x="880" y="246.5" font-family="'Liberation Sans', sans-serif" font-size="17" font-weight="normal" text-anchor="middle" fill="#ff0000" stroke="#ff0000" stroke-width="0.35">b</text>
<text x="990" y="277.5" font-family="'Liberation Sans', sans-serif" font-size="17" font-weight="normal" text-anchor="middle" fill="#ff0000" stroke="#ff0000" stroke-width="0.35">c</text>
<line x1="1031" y1="90.3" x2="1056" y2="90.3" stroke="#ff4040" stroke-width="1.3"/>
<circle cx="1043.5" cy="90.3" r="5" fill="#ff0000"/>
<text x="1068.5" y="96.3" font-family="'Liberation Serif', serif" font-size="18.5" font-weight="normal" text-anchor="start" fill="#1a1a1a" textLength="50" lengthAdjust="spacing">pH 2.0</text>
<line x1="1031" y1="121.6" x2="1056" y2="121.6" stroke="#ffff20" stroke-width="1.3"/>
<rect x="1038.5" y="116.6" width="10" height="10" fill="#ffff00"/>
<text x="1068.5" y="127.6" font-family="'Liberation Serif', serif" font-size="18.5" font-weight="normal" text-anchor="start" fill="#1a1a1a" textLength="50" lengthAdjust="spacing">pH 3.0</text>
<line x1="1031" y1="153.3" x2="1056" y2="153.3" stroke="#4a4ae0" stroke-width="1.3"/>
<polygon points="1043.5,147.3 1048.5,157.3 1038.5,157.3" fill="#0000cd"/>
<text x="1068.5" y="159.3" font-family="'Liberation Serif', serif" font-size="18.5" font-weight="normal" text-anchor="start" fill="#1a1a1a" textLength="50" lengthAdjust="spacing">pH 4.0</text>
<line x1="1207" y1="83.2" x2="1207" y2="244.5" stroke="#0a0a0a" stroke-width="2.2"/>
<line x1="1207" y1="253.5" x2="1207" y2="320.3" stroke="#0a0a0a" stroke-width="2.2"/>
<line x1="1194" y1="319.3" x2="1486" y2="319.3" stroke="#0a0a0a" stroke-width="2.2"/>
<line x1="1199" y1="244.3" x2="1215" y2="244.3" stroke="#0a0a0a" stroke-width="2"/>
<line x1="1199" y1="254" x2="1215" y2="254" stroke="#0a0a0a" stroke-width="2"/>
<line x1="1195" y1="84.2" x2="1207" y2="84.2" stroke="#0a0a0a" stroke-width="2.2"/>
<text x="1190.5" y="90.2" font-family="'Liberation Serif', serif" font-size="18.5" font-weight="bold" text-anchor="end" fill="#0a0a0a" textLength="21.5" lengthAdjust="spacingAndGlyphs" stroke="#0a0a0a" stroke-width="0.3">80</text>
<line x1="1195" y1="124.5" x2="1207" y2="124.5" stroke="#0a0a0a" stroke-width="2.2"/>
<text x="1190.5" y="130.5" font-family="'Liberation Serif', serif" font-size="18.5" font-weight="bold" text-anchor="end" fill="#0a0a0a" textLength="21.5" lengthAdjust="spacingAndGlyphs" stroke="#0a0a0a" stroke-width="0.3">70</text>
<line x1="1195" y1="164.6" x2="1207" y2="164.6" stroke="#0a0a0a" stroke-width="2.2"/>
<text x="1190.5" y="170.6" font-family="'Liberation Serif', serif" font-size="18.5" font-weight="bold" text-anchor="end" fill="#0a0a0a" textLength="21.5" lengthAdjust="spacingAndGlyphs" stroke="#0a0a0a" stroke-width="0.3">60</text>
<line x1="1195" y1="204.8" x2="1207" y2="204.8" stroke="#0a0a0a" stroke-width="2.2"/>
<text x="1190.5" y="210.8" font-family="'Liberation Serif', serif" font-size="18.5" font-weight="bold" text-anchor="end" fill="#0a0a0a" textLength="21.5" lengthAdjust="spacingAndGlyphs" stroke="#0a0a0a" stroke-width="0.3">50</text>
<text x="1190.5" y="250.3" font-family="'Liberation Serif', serif" font-size="18.5" font-weight="bold" text-anchor="end" fill="#0a0a0a" textLength="21.5" lengthAdjust="spacingAndGlyphs" stroke="#0a0a0a" stroke-width="0.3">40</text>
<text x="1190.5" y="260.2" font-family="'Liberation Serif', serif" font-size="18.5" font-weight="bold" text-anchor="end" fill="#0a0a0a" textLength="11.2" lengthAdjust="spacingAndGlyphs" stroke="#0a0a0a" stroke-width="0.3">4</text>
<line x1="1195" y1="270.5" x2="1207" y2="270.5" stroke="#0a0a0a" stroke-width="2.2"/>
<text x="1190.5" y="276.5" font-family="'Liberation Serif', serif" font-size="18.5" font-weight="bold" text-anchor="end" fill="#0a0a0a" textLength="11.2" lengthAdjust="spacingAndGlyphs" stroke="#0a0a0a" stroke-width="0.3">3</text>
<line x1="1195" y1="286.8" x2="1207" y2="286.8" stroke="#0a0a0a" stroke-width="2.2"/>
<text x="1190.5" y="292.8" font-family="'Liberation Serif', serif" font-size="18.5" font-weight="bold" text-anchor="end" fill="#0a0a0a" textLength="11.2" lengthAdjust="spacingAndGlyphs" stroke="#0a0a0a" stroke-width="0.3">2</text>
<line x1="1195" y1="303.2" x2="1207" y2="303.2" stroke="#0a0a0a" stroke-width="2.2"/>
<text x="1190.5" y="309.2" font-family="'Liberation Serif', serif" font-size="18.5" font-weight="bold" text-anchor="end" fill="#0a0a0a" textLength="11.2" lengthAdjust="spacingAndGlyphs" stroke="#0a0a0a" stroke-width="0.3">1</text>
<line x1="1195" y1="319.3" x2="1207" y2="319.3" stroke="#0a0a0a" stroke-width="2.2"/>
<text x="1190.5" y="325.3" font-family="'Liberation Serif', serif" font-size="18.5" font-weight="bold" text-anchor="end" fill="#0a0a0a" textLength="11.2" lengthAdjust="spacingAndGlyphs" stroke="#0a0a0a" stroke-width="0.3">0</text>
<rect x="1228" y="168.7" width="42.200000000000045" height="75.60000000000002" fill="#ff0000" stroke="#222" stroke-width="0.8"/>
<rect x="1228" y="254" width="42.200000000000045" height="65.30000000000001" fill="#ff0000" stroke="#222" stroke-width="0.8"/>
<rect x="1292.4" y="184.5" width="42.299999999999955" height="59.80000000000001" fill="#0000ff" stroke="#222" stroke-width="0.8"/>
<rect x="1292.4" y="254" width="42.299999999999955" height="65.30000000000001" fill="#0000ff" stroke="#222" stroke-width="0.8"/>
<rect x="1356" y="205.7" width="42.200000000000045" height="38.60000000000002" fill="#005000" stroke="#222" stroke-width="0.8"/>
<rect x="1356" y="254" width="42.200000000000045" height="65.30000000000001" fill="#005000" stroke="#222" stroke-width="0.8"/>
<rect x="1220" y="245.3" width="190" height="7.9" fill="#fff"/>
<rect x="1420.4" y="284.1" width="42.2" height="35.19999999999999" fill="#ffff00" stroke="#222" stroke-width="0.9"/>
<line x1="1238" y1="167.6" x2="1260" y2="167.6" stroke="#ff3030" stroke-width="1"/>
<line x1="1313.5" y1="184.5" x2="1313.5" y2="182" stroke="#5050ff" stroke-width="1"/>
<line x1="1302" y1="182" x2="1325" y2="182" stroke="#5050ff" stroke-width="1.2"/>
<line x1="1366" y1="204.8" x2="1388" y2="204.8" stroke="#206020" stroke-width="1"/>
<line x1="1441.5" y1="284" x2="1441.5" y2="279" stroke="#f0f030" stroke-width="1.2"/>
<line x1="1430" y1="279" x2="1453" y2="279" stroke="#f0f030" stroke-width="1.4"/>
<line x1="1248.7" y1="319.3" x2="1248.7" y2="328.5" stroke="#0a0a0a" stroke-width="2.2"/>
<text x="1245.7" y="348" font-family="'Liberation Serif', serif" font-size="17" font-weight="bold" text-anchor="middle" fill="#0a0a0a" textLength="20" lengthAdjust="spacingAndGlyphs" stroke="#0a0a0a" stroke-width="0.3">40</text>
<line x1="1312.8" y1="319.3" x2="1312.8" y2="328.5" stroke="#0a0a0a" stroke-width="2.2"/>
<text x="1309.8" y="348" font-family="'Liberation Serif', serif" font-size="17" font-weight="bold" text-anchor="middle" fill="#0a0a0a" textLength="20" lengthAdjust="spacingAndGlyphs" stroke="#0a0a0a" stroke-width="0.3">60</text>
<line x1="1377" y1="319.3" x2="1377" y2="328.5" stroke="#0a0a0a" stroke-width="2.2"/>
<text x="1374" y="348" font-family="'Liberation Serif', serif" font-size="17" font-weight="bold" text-anchor="middle" fill="#0a0a0a" textLength="20" lengthAdjust="spacingAndGlyphs" stroke="#0a0a0a" stroke-width="0.3">80</text>
<line x1="1441.4" y1="319.3" x2="1441.4" y2="328.5" stroke="#0a0a0a" stroke-width="2.2"/>
<text x="1438.4" y="348" font-family="'Liberation Serif', serif" font-size="17" font-weight="bold" text-anchor="middle" fill="#0a0a0a" textLength="29" lengthAdjust="spacingAndGlyphs" stroke="#0a0a0a" stroke-width="0.3">100</text>
<text x="1267" y="384" font-family="'Liberation Serif', serif" font-size="18" font-weight="bold" text-anchor="start" fill="#0a0a0a" textLength="158" lengthAdjust="spacingAndGlyphs" stroke="#0a0a0a" stroke-width="0.3">temperature/<tspan font-family="'Liberation Sans', 'Noto Sans CJK SC', sans-serif">℃</tspan></text>
<text x="1156.5" y="201.5" font-family="'Liberation Serif', serif" font-size="20.5" font-weight="bold" text-anchor="middle" fill="#0a0a0a" transform="rotate(-90 1156.5 201.5)" textLength="307" lengthAdjust="spacing" stroke="#0a0a0a" stroke-width="0.3">Living bacteria count(10<tspan font-size="14" dy="-8">6</tspan><tspan dy="8">CFU/mL)</tspan></text>
<line x1="672" y1="467" x2="672" y2="742.4" stroke="#0a0a0a" stroke-width="2.4"/>
<line x1="660" y1="741.3" x2="885" y2="741.3" stroke="#0a0a0a" stroke-width="2.4"/>
<line x1="661" y1="468.1" x2="672" y2="468.1" stroke="#0a0a0a" stroke-width="2.4"/>
<text x="655.5" y="475.1" font-family="'Liberation Serif', serif" font-size="20.5" font-weight="bold" text-anchor="end" fill="#0a0a0a" stroke="#0a0a0a" stroke-width="0.3">8</text>
<line x1="661" y1="536.3" x2="672" y2="536.3" stroke="#0a0a0a" stroke-width="2.4"/>
<text x="655.5" y="543.3" font-family="'Liberation Serif', serif" font-size="20.5" font-weight="bold" text-anchor="end" fill="#0a0a0a" stroke="#0a0a0a" stroke-width="0.3">6</text>
<line x1="661" y1="604.6" x2="672" y2="604.6" stroke="#0a0a0a" stroke-width="2.4"/>
<text x="655.5" y="611.6" font-family="'Liberation Serif', serif" font-size="20.5" font-weight="bold" text-anchor="end" fill="#0a0a0a" stroke="#0a0a0a" stroke-width="0.3">4</text>
<line x1="661" y1="673" x2="672" y2="673" stroke="#0a0a0a" stroke-width="2.4"/>
<text x="655.5" y="680" font-family="'Liberation Serif', serif" font-size="20.5" font-weight="bold" text-anchor="end" fill="#0a0a0a" stroke="#0a0a0a" stroke-width="0.3">2</text>
<line x1="661" y1="741.3" x2="672" y2="741.3" stroke="#0a0a0a" stroke-width="2.4"/>
<text x="655.5" y="748.3" font-family="'Liberation Serif', serif" font-size="20.5" font-weight="bold" text-anchor="end" fill="#0a0a0a" stroke="#0a0a0a" stroke-width="0.3">0</text>
<rect x="702.8" y="558" width="59.8" height="183.29999999999995" fill="#ff0000" stroke="#222" stroke-width="1"/>
<rect x="793" y="670.4" width="59.7" height="70.89999999999998" fill="#0000ff" stroke="#222" stroke-width="1"/>
<line x1="732.5" y1="558" x2="732.5" y2="542.4" stroke="#ff4040" stroke-width="1.2"/>
<line x1="717.3" y1="542.4" x2="747.7" y2="542.4" stroke="#ff4040" stroke-width="1.3"/>
<line x1="811" y1="668.6" x2="835" y2="668.6" stroke="#6060ff" stroke-width="1.2"/>
<line x1="732.3" y1="741.3" x2="732.3" y2="752.5" stroke="#0a0a0a" stroke-width="2.4"/>
<line x1="822.8" y1="741.3" x2="822.8" y2="752.5" stroke="#0a0a0a" stroke-width="2.4"/>
<text x="630" y="604" font-family="'Liberation Serif', serif" font-size="23.5" font-weight="bold" text-anchor="middle" fill="#0a0a0a" transform="rotate(-90 630 604)" stroke="#0a0a0a" stroke-width="0.3">Percentage (%)</text>
<text x="741" y="772" font-family="'Liberation Serif', serif" font-size="24" font-weight="bold" text-anchor="end" fill="#0a0a0a" transform="rotate(-45 741 772)" stroke="#0a0a0a" stroke-width="0.3">adhesion rate</text>
<text x="830" y="772" font-family="'Liberation Serif', serif" font-size="23.3" font-weight="bold" text-anchor="end" fill="#0a0a0a" transform="rotate(-45 830 772)" stroke="#0a0a0a" stroke-width="0.3">Invasion rate</text>
<line x1="1192" y1="525.6" x2="1192" y2="747.5" stroke="#0a0a0a" stroke-width="2.6"/>
<line x1="1182" y1="746.2" x2="1533" y2="746.2" stroke="#0a0a0a" stroke-width="2.6"/>
<line x1="1182" y1="526.9" x2="1192" y2="526.9" stroke="#0a0a0a" stroke-width="2.4"/>
<text x="1179" y="532.4" font-family="'Liberation Serif', serif" font-size="17" font-weight="bold" text-anchor="end" fill="#0a0a0a" textLength="18.6" lengthAdjust="spacingAndGlyphs" stroke="#0a0a0a" stroke-width="0.3">40</text>
<line x1="1182" y1="581.8" x2="1192" y2="581.8" stroke="#0a0a0a" stroke-width="2.4"/>
<text x="1179" y="587.3" font-family="'Liberation Serif', serif" font-size="17" font-weight="bold" text-anchor="end" fill="#0a0a0a" textLength="18.6" lengthAdjust="spacingAndGlyphs" stroke="#0a0a0a" stroke-width="0.3">30</text>
<line x1="1182" y1="636.5" x2="1192" y2="636.5" stroke="#0a0a0a" stroke-width="2.4"/>
<text x="1179" y="642.0" font-family="'Liberation Serif', serif" font-size="17" font-weight="bold" text-anchor="end" fill="#0a0a0a" textLength="18.6" lengthAdjust="spacingAndGlyphs" stroke="#0a0a0a" stroke-width="0.3">20</text>
<line x1="1182" y1="691.2" x2="1192" y2="691.2" stroke="#0a0a0a" stroke-width="2.4"/>
<text x="1179" y="696.7" font-family="'Liberation Serif', serif" font-size="17" font-weight="bold" text-anchor="end" fill="#0a0a0a" textLength="18.6" lengthAdjust="spacingAndGlyphs" stroke="#0a0a0a" stroke-width="0.3">10</text>
<line x1="1182" y1="746.2" x2="1192" y2="746.2" stroke="#0a0a0a" stroke-width="2.4"/>
<text x="1179" y="751.7" font-family="'Liberation Serif', serif" font-size="17" font-weight="bold" text-anchor="end" fill="#0a0a0a" textLength="9.3" lengthAdjust="spacingAndGlyphs" stroke="#0a0a0a" stroke-width="0.3">0</text>
<line x1="1234.3" y1="746.2" x2="1234.3" y2="755.5" stroke="#0a0a0a" stroke-width="2.4"/>
<text x="1234.3" y="774.5" font-family="'Liberation Serif', serif" font-size="17" font-weight="bold" text-anchor="middle" fill="#0a0a0a" textLength="9.3" lengthAdjust="spacingAndGlyphs" stroke="#0a0a0a" stroke-width="0.3">0</text>
<line x1="1297.8" y1="746.2" x2="1297.8" y2="755.5" stroke="#0a0a0a" stroke-width="2.4"/>
<text x="1297.8" y="774.5" font-family="'Liberation Serif', serif" font-size="17" font-weight="bold" text-anchor="middle" fill="#0a0a0a" textLength="18.6" lengthAdjust="spacingAndGlyphs" stroke="#0a0a0a" stroke-width="0.3">12</text>
<line x1="1361.7" y1="746.2" x2="1361.7" y2="755.5" stroke="#0a0a0a" stroke-width="2.4"/>
<text x="1361.7" y="774.5" font-family="'Liberation Serif', serif" font-size="17" font-weight="bold" text-anchor="middle" fill="#0a0a0a" textLength="18.6" lengthAdjust="spacingAndGlyphs" stroke="#0a0a0a" stroke-width="0.3">24</text>
<line x1="1424.9" y1="746.2" x2="1424.9" y2="755.5" stroke="#0a0a0a" stroke-width="2.4"/>
<text x="1424.9" y="774.5" font-family="'Liberation Serif', serif" font-size="17" font-weight="bold" text-anchor="middle" fill="#0a0a0a" textLength="18.6" lengthAdjust="spacingAndGlyphs" stroke="#0a0a0a" stroke-width="0.3">36</text>
<line x1="1488.8" y1="746.2" x2="1488.8" y2="755.5" stroke="#0a0a0a" stroke-width="2.4"/>
<text x="1488.8" y="774.5" font-family="'Liberation Serif', serif" font-size="17" font-weight="bold" text-anchor="middle" fill="#0a0a0a" textLength="18.6" lengthAdjust="spacingAndGlyphs" stroke="#0a0a0a" stroke-width="0.3">48</text>
<polyline points="1234.3,712 1297.8,637.8 1361.7,609.1 1424.9,583.9 1488.8,554.2" fill="none" stroke="#111" stroke-width="2.3"/>
<line x1="1297.8" y1="631.3" x2="1297.8" y2="644.3" stroke="#444" stroke-width="1.3"/>
<line x1="1292.6" y1="631.3" x2="1303.0" y2="631.3" stroke="#444" stroke-width="1.3"/>
<line x1="1292.6" y1="644.3" x2="1303.0" y2="644.3" stroke="#444" stroke-width="1.3"/>
<line x1="1361.7" y1="602.4" x2="1361.7" y2="615.8000000000001" stroke="#444" stroke-width="1.3"/>
<line x1="1356.5" y1="602.4" x2="1366.9" y2="602.4" stroke="#444" stroke-width="1.3"/>
<line x1="1356.5" y1="615.8000000000001" x2="1366.9" y2="615.8000000000001" stroke="#444" stroke-width="1.3"/>
<line x1="1424.9" y1="576.3" x2="1424.9" y2="591.5" stroke="#444" stroke-width="1.3"/>
<line x1="1419.7" y1="576.3" x2="1430.1000000000001" y2="576.3" stroke="#444" stroke-width="1.3"/>
<line x1="1419.7" y1="591.5" x2="1430.1000000000001" y2="591.5" stroke="#444" stroke-width="1.3"/>
<line x1="1488.8" y1="547.5" x2="1488.8" y2="560.9000000000001" stroke="#444" stroke-width="1.3"/>
<line x1="1483.6" y1="547.5" x2="1494.0" y2="547.5" stroke="#444" stroke-width="1.3"/>
<line x1="1483.6" y1="560.9000000000001" x2="1494.0" y2="560.9000000000001" stroke="#444" stroke-width="1.3"/>
<circle cx="1234.3" cy="712" r="4.4" fill="#0a0a0a"/>
<circle cx="1488.8" cy="554.2" r="4.6" fill="#0a0a0a"/>
<polygon points="1297.8,633.1999999999999 1302.3999999999999,637.8 1297.8,642.4 1293.2,637.8" fill="#0a0a0a"/>
<polygon points="1361.7,604.5 1366.3,609.1 1361.7,613.7 1357.1000000000001,609.1" fill="#0a0a0a"/>
<polygon points="1424.9,579.3 1429.5,583.9 1424.9,588.5 1420.3000000000002,583.9" fill="#0a0a0a"/>
<text x="1362" y="806" font-family="'Liberation Serif', serif" font-size="17" font-weight="bold" text-anchor="middle" fill="#0a0a0a" textLength="56" lengthAdjust="spacing" stroke="#0a0a0a" stroke-width="0.3">Time/h</text>
<text x="1146" y="633" font-family="'Liberation Serif', serif" font-size="17" font-weight="bold" text-anchor="middle" fill="#161616" transform="rotate(-90 1146 633)" textLength="429" lengthAdjust="spacing" stroke="#161616" stroke-width="0.3">Number of viable bacteria within cells(10<tspan font-size="12.5" dy="-6.5">4</tspan><tspan dy="6.5">CFU/mL)</tspan></text>
</g>
</svg>
</body></html>
